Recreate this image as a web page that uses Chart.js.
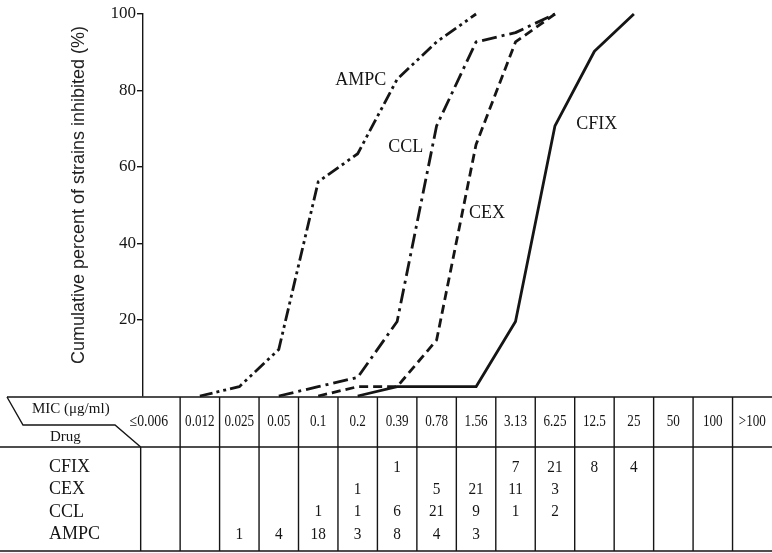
<!DOCTYPE html>
<html>
<head>
<meta charset="utf-8">
<script src="https://cdn.jsdelivr.net/npm/chart.js@4.4.1/dist/chart.umd.min.js"></script>
<style>
  html, body { margin: 0; padding: 0; background: #fff; }
  #wrap { width: 772px; height: 553px; }
  canvas { display: block; }
</style>
</head>
<body>
<div id="wrap"><canvas id="mic" width="772" height="553"></canvas></div>
<script>
// MIC classes (µg/ml) and the number of strains inhibited in each class
const micLabels = ['≤0.006', '0.012', '0.025', '0.05', '0.1', '0.2', '0.39', '0.78', '1.56', '3.13', '6.25', '12.5', '25', '50', '100', '>100'];
const drugNames = ['CFIX', 'CEX', 'CCL', 'AMPC'];
const cfixCounts = [0, 0, 0, 0, 0, 0, 1, 0, 0, 7, 21, 8, 4, 0, 0, 0];
const cexCounts  = [0, 0, 0, 0, 0, 1, 0, 5, 21, 11, 3, 0, 0, 0, 0, 0];
const cclCounts  = [0, 0, 0, 0, 1, 1, 6, 21, 9, 1, 2, 0, 0, 0, 0, 0];
const ampcCounts = [0, 0, 1, 4, 18, 3, 8, 4, 3, 0, 0, 0, 0, 0, 0, 0];
const yTicks = [20, 40, 60, 80, 100];

const countsByDrug = { CFIX: cfixCounts, CEX: cexCounts, CCL: cclCounts, AMPC: ampcCounts };

// cumulative percentage curve: starts at 0 one class before the first strain,
// ends at the class where all strains are inhibited
function cumulativePoints(counts) {
  const total = counts.reduce((a, b) => a + b, 0);
  const first = counts.findIndex(c => c > 0);
  const pts = [{ x: first - 1, y: 0 }];
  let run = 0;
  for (let i = first; i < counts.length; i++) {
    run += counts[i];
    pts.push({ x: i, y: run / total * 100 });
    if (run >= total) break;
  }
  return pts;
}

const lineStyles = {
  CFIX: [],
  CEX: [9, 5],
  CCL: [15, 5, 3, 5],
  AMPC: [13, 4, 3, 4, 3, 4]
};

// curve name labels, placed in data units (MIC class index, percent)
const curveLabels = [
  { text: 'AMPC', x: 5.08, y: 82.7 },
  { text: 'CCL',  x: 6.22, y: 65.2 },
  { text: 'CEX',  x: 8.28, y: 47.9 },
  { text: 'CFIX', x: 11.06, y: 71.2 }
];

const INK = '#151515';
const SERIF = '"Liberation Serif", "Times New Roman", serif';
const SANS = '"Liberation Sans", Arial, sans-serif';

// text drawn with a narrow (condensed) set width
function narrowText(ctx, text, x, y, align, squeeze) {
  ctx.save();
  ctx.translate(x, y);
  ctx.scale(squeeze, 1);
  ctx.textAlign = align;
  ctx.fillText(text, 0, 0);
  ctx.restore();
}

const tablePlugin = {
  id: 'micTable',
  beforeDraw(chart) {
    const ctx = chart.ctx;
    ctx.save();
    ctx.fillStyle = '#fff';
    ctx.fillRect(0, 0, chart.width, chart.height);
    ctx.restore();
  },
  afterDraw(chart) {
    const ctx = chart.ctx;
    const xs = chart.scales.x;
    const ys = chart.scales.y;
    const W = chart.width;
    const tableTop = chart.chartArea.bottom + 1;
    const headBottom = 447;
    const tableBottom = 551;
    const rowY = [467.5, 489.5, 512, 534.5];

    ctx.save();
    ctx.strokeStyle = INK;
    ctx.lineWidth = 1.4;
    ctx.lineCap = 'butt';

    // horizontal rules
    ctx.beginPath();
    ctx.moveTo(7, tableTop); ctx.lineTo(W, tableTop);
    ctx.moveTo(0, headBottom); ctx.lineTo(W, headBottom);
    ctx.moveTo(0, tableBottom); ctx.lineTo(W, tableBottom);
    ctx.stroke();

    // slanted header box
    ctx.beginPath();
    ctx.moveTo(7, tableTop);
    ctx.lineTo(23, 425);
    ctx.lineTo(115, 425);
    ctx.lineTo(xs.getPixelForValue(-0.5), headBottom);
    ctx.stroke();

    // column separators
    ctx.beginPath();
    const x0 = xs.getPixelForValue(-0.5);
    ctx.moveTo(x0, headBottom); ctx.lineTo(x0, tableBottom);
    for (let i = 1; i < micLabels.length; i++) {
      const xb = xs.getPixelForValue(i - 0.5);
      ctx.moveTo(xb, tableTop); ctx.lineTo(xb, tableBottom);
    }
    ctx.stroke();

    ctx.fillStyle = INK;
    ctx.textBaseline = 'middle';

    // header texts
    ctx.font = '15px ' + SERIF;
    ctx.textAlign = 'left';
    ctx.fillText('MIC (μg/ml)', 32, 409);
    ctx.fillText('Drug', 50, 437);

    ctx.font = '16px ' + SERIF;
    micLabels.forEach((lab, i) => {
      if (i === 0) {
        narrowText(ctx, lab, xs.getPixelForValue(0.5) - 12, 422, 'right', 0.86);
      } else {
        narrowText(ctx, lab, xs.getPixelForValue(i), 422, 'center', 0.82);
      }
    });

    // row labels and counts
    drugNames.forEach((name, r) => {
      ctx.font = '18px ' + SERIF;
      ctx.textAlign = 'left';
      ctx.fillText(name, 49, rowY[r]);
      ctx.font = '17px ' + SERIF;
      countsByDrug[name].forEach((c, i) => {
        if (c > 0) narrowText(ctx, String(c), xs.getPixelForValue(i), rowY[r], 'center', 0.9);
      });
    });

    // curve labels
    ctx.font = '18px ' + SERIF;
    ctx.textAlign = 'center';
    curveLabels.forEach(l => {
      ctx.fillText(l.text, xs.getPixelForValue(l.x), ys.getPixelForValue(l.y));
    });

    // y axis title
    ctx.translate(79, 195);
    ctx.rotate(-Math.PI / 2);
    ctx.font = '18px ' + SANS;
    ctx.fillStyle = '#222';
    ctx.textAlign = 'center';
    ctx.fillText('Cumulative percent of strains inhibited (%)', 0, 0);
    ctx.restore();
  }
};

new Chart(document.getElementById('mic'), {
  type: 'line',
  data: {
    datasets: drugNames.map(name => ({
      label: name,
      data: cumulativePoints(countsByDrug[name]),
      borderColor: INK,
      borderWidth: 2.8,
      borderDash: lineStyles[name],
      borderCapStyle: 'butt',
      borderJoinStyle: 'round',
      pointRadius: 0,
      tension: 0,
      fill: false,
      clip: false
    }))
  },
  options: {
    responsive: false,
    animation: false,
    devicePixelRatio: 1,
    layout: { padding: { left: 0, right: 0, top: 14, bottom: 157 } },
    plugins: { legend: { display: false }, tooltip: { enabled: false }, title: { display: false } },
    scales: {
      x: {
        type: 'linear',
        display: false,
        min: -0.441,
        max: 15.5
      },
      y: {
        type: 'linear',
        min: 0,
        max: 100,
        afterFit(scale) { scale.width = 143; },
        afterBuildTicks(scale) { scale.ticks = yTicks.map(v => ({ value: v })); },
        border: { display: true, color: INK, width: 1.4 },
        grid: { drawOnChartArea: false, drawTicks: true, tickLength: 6, color: INK, lineWidth: 1.4 },
        ticks: {
          color: INK,
          padding: 1,
          font: { family: SERIF, size: 17 }
        }
      }
    }
  },
  plugins: [tablePlugin]
});
</script>
</body>
</html>
